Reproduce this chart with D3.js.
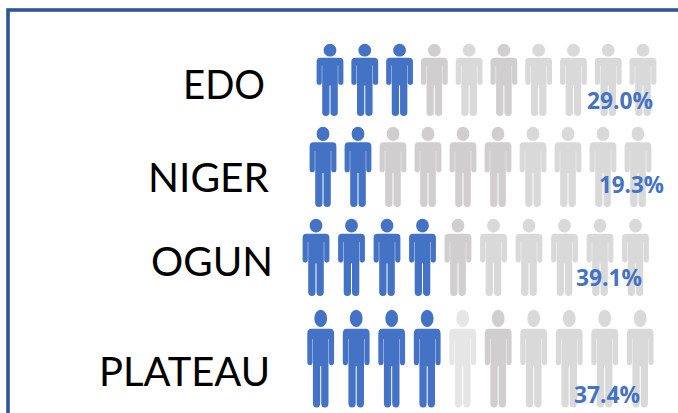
<!DOCTYPE html>
<html>
<head>
<meta charset="utf-8">
<script src="https://cdn.jsdelivr.net/npm/d3@7"></script>
<style>
  html, body { margin: 0; padding: 0; background: #fff; overflow: hidden; }
  svg { display: block; }
  text { font-family: Lato, "Open Sans", sans-serif; }
  text.pct { font-family: "Open Sans", sans-serif; }
</style>
</head>
<body>
<div id="chart"></div>
<script>
// --- Data ---
const states = ["EDO", "NIGER", "OGUN", "PLATEAU"];
const percents = [29.0, 19.3, 39.1, 37.4];
// tone of each of the ten icons: 0 = blue, 1 = dark gray, 2 = gray, 3 = pale gray
const edoTones = [0, 0, 0, 1, 2, 1, 2, 2, 2, 2];
const nigerTones = [0, 0, 1, 1, 1, 1, 2, 2, 2, 2];
const ogunTones = [0, 0, 0, 0, 1, 2, 2, 2, 2, 2];
const plateauTones = [0, 0, 0, 0, 3, 1, 2, 2, 2, 2];
const tones = [edoTones, nigerTones, ogunTones, plateauTones];

// --- Layout, one entry per row ---
const width = 678, height = 413;
const iconLeft = [330, 323, 316, 320.7];
const iconRight = [643, 638, 635.5, 640.2];
const iconTop = [44, 127, 219, 310];
const iconBottom = [116, 207, 296, 407.5];
const labelRight = [265, 269, 273, 270];
const labelWidth = [82, 121, 122, 171];
const labelBase = [99, 192, 276, 386];
const pctLeft = [587, 599, 576, 574];
const pctWidth = [66, 65, 66, 66];
const pctBase = [109, 193, 286, 403];

const toneColor = d3.scaleOrdinal()
    .domain([0, 1, 2, 3])
    .range(["#4472C4", "#D0CECE", "#D9D9D9", "#E7E6E6"]);

const svg = d3.select("#chart").append("svg")
    .attr("width", width)
    .attr("height", height);

// --- Frame, runs off the right and bottom of the picture ---
svg.append("rect")
    .attr("x", 8)
    .attr("y", 10)
    .attr("width", width + 20)
    .attr("height", height + 20)
    .attr("fill", "none")
    .attr("stroke", "#2F5597")
    .attr("stroke-width", 3.6);

// --- Person icon, drawn in a box 27 wide and 72 tall ---
function personPath() {
    const p = d3.path();
    // head
    p.moveTo(6.4, 6.2);
    p.arc(0, 6.2, 6.4, 0, 2 * Math.PI);
    p.closePath();
    // body, right side first
    p.moveTo(-9.6, 13.8);
    p.lineTo(9.6, 13.8);
    p.quadraticCurveTo(13.4, 13.8, 13.4, 17.6);
    p.lineTo(13.4, 38.2);
    p.quadraticCurveTo(13.4, 40.8, 10.8, 40.8);
    p.quadraticCurveTo(8.2, 40.8, 8.2, 38.2);
    p.lineTo(8.2, 21.5);
    p.lineTo(7.8, 21.5);
    p.lineTo(7.8, 68.6);
    p.quadraticCurveTo(7.8, 72, 4.2, 72);
    p.quadraticCurveTo(0.5, 72, 0.5, 68.6);
    p.lineTo(0.5, 41.5);
    p.lineTo(-0.5, 41.5);
    p.lineTo(-0.5, 68.6);
    p.quadraticCurveTo(-0.5, 72, -4.2, 72);
    p.quadraticCurveTo(-7.8, 72, -7.8, 68.6);
    p.lineTo(-7.8, 21.5);
    p.lineTo(-8.2, 21.5);
    p.lineTo(-8.2, 38.2);
    p.quadraticCurveTo(-8.2, 40.8, -10.8, 40.8);
    p.quadraticCurveTo(-13.4, 40.8, -13.4, 38.2);
    p.lineTo(-13.4, 17.6);
    p.quadraticCurveTo(-13.4, 13.8, -9.6, 13.8);
    p.closePath();
    return p.toString();
}
const personD = personPath();

// --- Rows ---
const rows = svg.selectAll("g.row")
    .data(states)
    .enter()
    .append("g")
    .attr("class", "row");

rows.each(function(state, r) {
    const row = d3.select(this);
    const x = d3.scalePoint()
        .domain(d3.range(tones[r].length))
        .range([iconLeft[r], iconRight[r]]);
    const yScale = (iconBottom[r] - iconTop[r]) / 72;

    row.selectAll("path")
        .data(tones[r])
        .enter()
        .append("path")
        .attr("d", personD)
        .attr("transform", (d, i) => `translate(${x(i)},${iconTop[r]}) scale(1,${yScale})`)
        .attr("fill", d => toneColor(d));

    row.append("text")
        .attr("x", labelRight[r])
        .attr("y", labelBase[r])
        .attr("text-anchor", "end")
        .attr("font-size", 41)
        .attr("textLength", labelWidth[r])
        .attr("lengthAdjust", "spacingAndGlyphs")
        .attr("fill", "#000")
        .text(state);

    row.append("text")
        .attr("class", "pct")
        .attr("x", pctLeft[r])
        .attr("y", pctBase[r])
        .attr("font-size", 23)
        .attr("font-weight", 700)
        .attr("textLength", pctWidth[r])
        .attr("lengthAdjust", "spacingAndGlyphs")
        .attr("fill", "#4472C4")
        .text(d3.format(".1f")(percents[r]) + "%");
});
</script>
</body>
</html>
